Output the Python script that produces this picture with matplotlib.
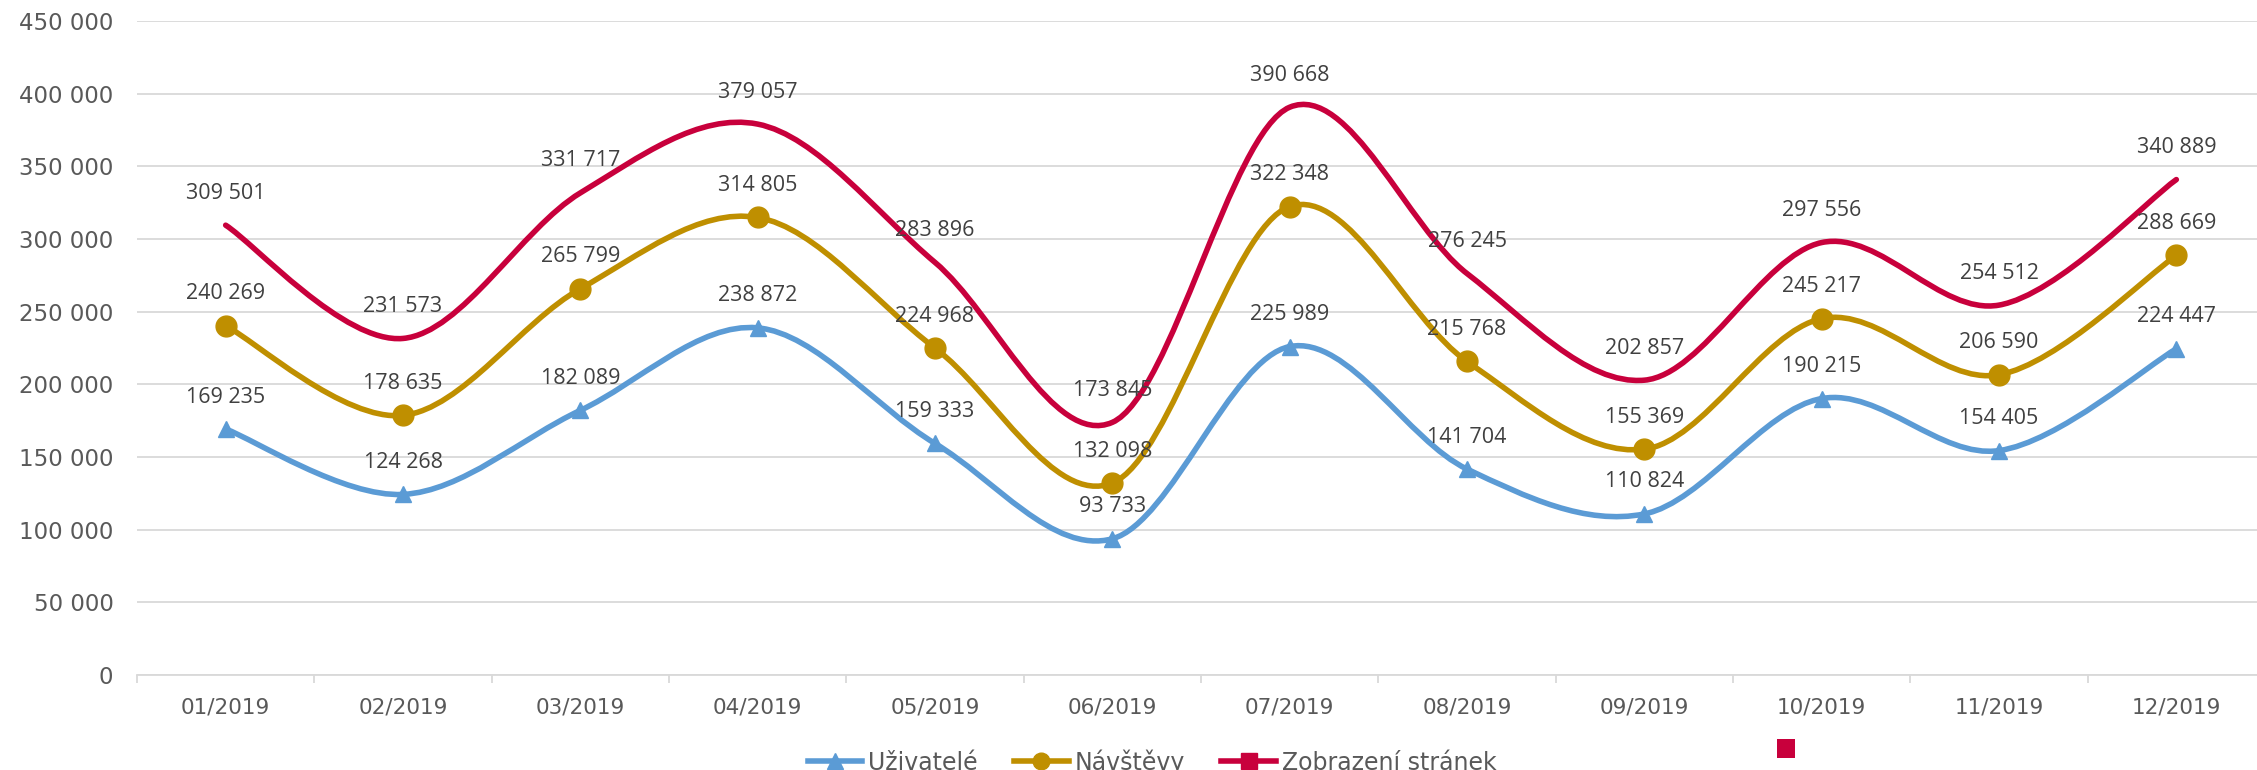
import matplotlib
matplotlib.use("Agg")
import matplotlib.pyplot as plt
from matplotlib.path import Path
from matplotlib.patches import PathPatch, Rectangle
from matplotlib.lines import Line2D
import numpy as np

months = ["01/2019", "02/2019", "03/2019", "04/2019", "05/2019", "06/2019",
          "07/2019", "08/2019", "09/2019", "10/2019", "11/2019", "12/2019"]
uzivatele = [169235, 124268, 182089, 238872, 159333, 93733,
             225989, 141704, 110824, 190215, 154405, 224447]
navstevy = [240269, 178635, 265799, 314805, 224968, 132098,
            322348, 215768, 155369, 245217, 206590, 288669]
zobrazeni = [309501, 231573, 331717, 379057, 283896, 173845,
             390668, 276245, 202857, 297556, 254512, 340889]
series_names = ["Uživatelé", "Návštěvy", "Zobrazení stránek"]
yticks = [0, 50000, 100000, 150000, 200000, 250000, 300000, 350000, 400000, 450000]

C_BLUE = "#5B9BD5"
C_GOLD = "#BF8F00"
C_RED = "#C8003C"
TICK_C = "#595959"
LAB_C = "#404040"
GRID_C = "#D9D9D9"
TICK_FONT = "DejaVu Sans"
LAB_FONT = "Open Sans"


def fmt(v):
    return f"{v:,}".replace(",", " ")


def smooth_path(xs, ys):
    pts = np.column_stack([xs, ys]).astype(float)
    n = len(pts)
    verts = [pts[0]]
    codes = [Path.MOVETO]
    for i in range(n - 1):
        p0 = pts[i - 1] if i > 0 else pts[i]
        p1 = pts[i]
        p2 = pts[i + 1]
        p3 = pts[i + 2] if i + 2 < n else pts[i + 1]
        c1 = p1 + (p2 - p0) / 6.0
        c2 = p2 - (p3 - p1) / 6.0
        verts += [c1, c2, p2]
        codes += [Path.CURVE4] * 3
    return Path(verts, codes)


fig = plt.figure(figsize=(22.57, 7.70), dpi=100)
L, R, B, T = 137 / 2257, 2265 / 2257, 1 - 675 / 770, 1 - 21 / 770
ax = fig.add_axes([L, B, R - L, T - B])

x = np.arange(len(months))
ax.set_xlim(-0.5, len(months) - 0.5)
ax.set_ylim(0, 450000)

for vals, col, mk, ms in [(zobrazeni, C_RED, None, 0),
                          (navstevy, C_GOLD, "o", 15),
                          (uzivatele, C_BLUE, "^", 12)]:
    patch = PathPatch(smooth_path(x, vals), facecolor="none", edgecolor=col,
                      lw=4.0, capstyle="round", joinstyle="round", zorder=3)
    ax.add_patch(patch)
    if mk:
        ax.plot(x, vals, linestyle="none", marker=mk, ms=ms, color=col,
                markeredgecolor=col, zorder=4)
    for xi, v in zip(x, vals):
        ax.annotate(fmt(v), (xi, v), xytext=(0, 23), textcoords="offset points",
                    ha="center", va="center", fontsize=15.5, color=LAB_C,
                    family=LAB_FONT, zorder=5)

ax.set_yticks(yticks)
ax.set_yticklabels([fmt(v) for v in yticks], family=TICK_FONT, fontsize=16.5,
                   color=TICK_C)
ax.yaxis.grid(True, color=GRID_C, lw=1.3)
ax.set_axisbelow(True)
ax.tick_params(axis="y", length=0, pad=17)

ax.set_xticks(x)
ax.set_xticklabels(months, family=TICK_FONT, fontsize=15.5, color=TICK_C)
ax.set_xticks(np.arange(-0.5, len(months) + 0.5, 1.0), minor=True)
ax.tick_params(axis="x", which="major", length=0, pad=16)
ax.tick_params(axis="x", which="minor", length=6, width=1.3, color=GRID_C)

for s in ["left", "right", "top"]:
    ax.spines[s].set_visible(False)
ax.spines["bottom"].set_color(GRID_C)
ax.spines["bottom"].set_linewidth(1.3)

handles = [
    Line2D([], [], color=C_BLUE, lw=4, marker="^", ms=11),
    Line2D([], [], color=C_GOLD, lw=4, marker="o", ms=12),
    Line2D([], [], color=C_RED, lw=4, marker="s", ms=11),
]
leg = fig.legend(handles, series_names, loc="center",
                 bbox_to_anchor=(1152 / 2257, 1 - 762 / 770), ncol=3,
                 frameon=False, handlelength=2.3, handletextpad=0.25,
                 columnspacing=1.55,
                 prop={"family": TICK_FONT, "size": 17})
for t in leg.get_texts():
    t.set_color(TICK_C)

fig.patches.append(Rectangle((1777 / 2257, 1 - 758 / 770), 18 / 2257, 19 / 770,
                             transform=fig.transFigure, facecolor=C_RED,
                             edgecolor="none"))

fig.savefig("out.png", dpi=100)
